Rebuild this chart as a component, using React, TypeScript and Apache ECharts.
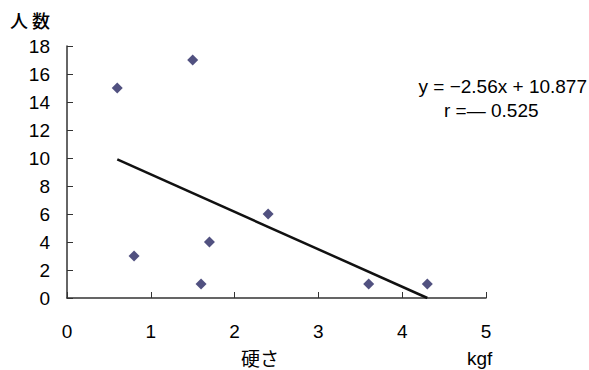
import React, { useEffect, useRef } from "react";
import * as echarts from "echarts";

const points: [number, number][] = [
  [0.6, 15],
  [1.5, 17],
  [0.8, 3],
  [1.6, 1],
  [1.7, 4],
  [2.4, 6],
  [3.6, 1],
  [4.3, 1],
];
const trendLine: [number, number][] = [
  [0.6, 9.9],
  [4.3, 0],
];
const xTitle = "硬さ";
const xUnit = "kgf";
const yTitle = "人 数";
const equationText = "y = −2.56x + 10.877";
const rText = "r =— 0.525";

const NUM_FONT = "'Liberation Sans', Arial, sans-serif";
const CJK_FONT = "'Noto Sans CJK JP', sans-serif";

export default function App() {
  const ref = useRef<HTMLDivElement>(null);
  useEffect(() => {
    if (!ref.current) return;
    const chart = echarts.init(ref.current, undefined, { renderer: "svg" });
    chart.setOption({
      animation: false,
      backgroundColor: "#ffffff",
      grid: { left: 67, right: 103, top: 46, bottom: 72 },
      xAxis: {
        type: "value",
        min: 0,
        max: 5,
        interval: 1,
        axisLine: { lineStyle: { color: "#333", width: 1.5 } },
        axisTick: { inside: true, length: 6, lineStyle: { color: "#333" } },
        axisLabel: { color: "#000", fontSize: 19, fontFamily: NUM_FONT, margin: 24 },
        splitLine: { show: false },
      },
      yAxis: {
        type: "value",
        min: 0,
        max: 18,
        interval: 2,
        axisLine: { show: true, lineStyle: { color: "#333", width: 1.5 } },
        axisTick: { show: true, inside: true, length: 6, lineStyle: { color: "#333" } },
        axisLabel: { color: "#000", fontSize: 19, fontFamily: NUM_FONT, margin: 17 },
        splitLine: { show: false },
      },
      series: [
        {
          type: "scatter",
          data: points,
          symbol: "diamond",
          symbolSize: 11,
          itemStyle: { color: "#262660" },
        },
        {
          type: "line",
          data: trendLine,
          symbol: "none",
          lineStyle: { color: "#111", width: 2.5 },
        },
      ],
      graphic: [
        {
          type: "text",
          x: 10,
          y: 20,
          style: { text: yTitle, fontSize: 18, fontWeight: 500, fontFamily: CJK_FONT, fill: "#000", textVerticalAlign: "middle" },
        },
        {
          type: "text",
          x: 241,
          y: 357,
          style: { text: xTitle, fontSize: 19, fontFamily: CJK_FONT, fill: "#000", textVerticalAlign: "middle" },
        },
        {
          type: "text",
          x: 467,
          y: 358,
          style: { text: xUnit, fontSize: 19, fontFamily: NUM_FONT, fill: "#000", textVerticalAlign: "middle" },
        },
        {
          type: "text",
          x: 587,
          y: 86,
          style: {
            text: equationText,
            fontSize: 19,
            fontFamily: NUM_FONT,
            fill: "#000",
            textAlign: "right",
            textVerticalAlign: "middle",
          },
        },
        {
          type: "text",
          x: 444,
          y: 110,
          style: { text: rText, fontSize: 19, fontFamily: NUM_FONT, fill: "#000", textVerticalAlign: "middle" },
        },
      ],
    });
    return () => chart.dispose();
  }, []);
  return <div ref={ref} style={{ width: 589, height: 370, position: "absolute", left: 0, top: 0 }} />;
}
